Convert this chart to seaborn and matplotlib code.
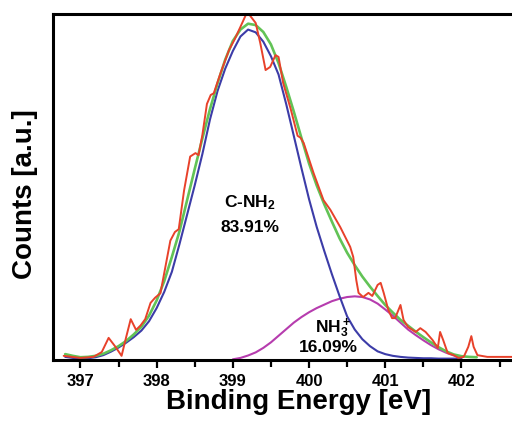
import numpy as np
import pandas as pd
import matplotlib
matplotlib.use("Agg")
import matplotlib.pyplot as plt
import seaborn as sns

# N 1s spectrum: binding energy [eV] and counts [a.u.]
raw_energy = [396.78, 397.00, 397.17, 397.28, 397.37, 397.46, 397.54, 397.60, 397.66, 397.73,
              397.79, 397.85, 397.92, 397.98, 398.05, 398.12, 398.18, 398.24, 398.29, 398.36,
              398.44, 398.51, 398.55, 398.60, 398.66, 398.71, 398.75, 398.84, 398.95, 399.02,
              399.10, 399.17, 399.22, 399.30, 399.36, 399.43, 399.49, 399.56, 399.60, 399.66,
              399.76, 399.85, 399.89, 399.93, 400.06, 400.19, 400.28, 400.41, 400.54, 400.58,
              400.62, 400.65, 400.71, 400.78, 400.83, 400.90, 400.94, 400.98, 401.04, 401.09,
              401.13, 401.20, 401.24, 401.30, 401.40, 401.46, 401.53, 401.62, 401.69, 401.72,
              401.76, 401.82, 401.90, 401.96, 402.03, 402.09, 402.13, 402.16, 402.21, 402.34,
              402.67]
raw_counts = [12, 6, 9, 23, 64, 38, 12, 66, 118, 87,
              100, 118, 165, 180, 193, 275, 345, 370, 378, 490,
              588, 598, 592, 650, 740, 766, 771, 830, 896, 925,
              963, 997, 997, 974, 916, 838, 847, 881, 876, 801,
              725, 648, 642, 627, 540, 462, 434, 384, 327, 298,
              231, 194, 182, 194, 185, 217, 223, 194, 145, 121,
              121, 159, 116, 95, 81, 92, 81, 58, 35, 81,
              58, 20, 14, 6, 9, 38, 69, 38, 14, 9,
              9]

# C-NH2 component
cnh2_energy = [396.8, 396.9, 397.0, 397.1, 397.2, 397.3, 397.4, 397.5, 397.6, 397.7,
               397.8, 397.9, 398.0, 398.1, 398.2, 398.3, 398.4, 398.5, 398.6, 398.7,
               398.8, 398.9, 399.0, 399.1, 399.2, 399.3, 399.4, 399.5, 399.6, 399.7,
               399.8, 399.9, 400.0, 400.1, 400.2, 400.3, 400.4, 400.5, 400.6, 400.7,
               400.8, 400.9, 401.0, 401.1, 401.2, 401.3, 401.4, 401.5, 401.6, 401.7,
               401.8, 401.9, 402.0]
cnh2_counts = [9, 6, 4, 5, 8, 14, 24, 36, 50, 66,
               85, 112, 150, 197, 255, 335, 420, 505, 595, 695,
               778, 842, 893, 935, 955, 947, 920, 878, 825, 740,
               648, 555, 465, 385, 315, 248, 185, 126, 88, 60,
               40, 25, 17, 12, 9, 7, 6, 5, 5, 4,
               4, 4, 4]

# NH3+ component
nh3_energy = [399.0, 399.1, 399.2, 399.3, 399.4, 399.5, 399.6, 399.7, 399.8, 399.9,
              400.0, 400.1, 400.2, 400.3, 400.4, 400.5, 400.6, 400.7, 400.8, 400.9,
              401.0, 401.1, 401.2, 401.3, 401.4, 401.5, 401.6, 401.7, 401.8, 401.9,
              402.0]
nh3_counts = [2, 6, 13, 22, 35, 51, 70, 89, 108, 124,
              138, 150, 160, 170, 177, 182, 184, 182, 175, 163,
              146, 128, 108, 88, 72, 57, 43, 31, 21, 13,
              7]

# Fitted envelope
fit_energy = [396.8, 396.9, 397.0, 397.1, 397.2, 397.3, 397.4, 397.5, 397.6, 397.7,
              397.8, 397.9, 398.0, 398.1, 398.2, 398.3, 398.4, 398.5, 398.6, 398.7,
              398.8, 398.9, 399.0, 399.1, 399.2, 399.3, 399.4, 399.5, 399.6, 399.7,
              399.8, 399.9, 400.0, 400.1, 400.2, 400.3, 400.4, 400.5, 400.6, 400.7,
              400.8, 400.9, 401.0, 401.1, 401.2, 401.3, 401.4, 401.5, 401.6, 401.7,
              401.8, 401.9, 402.0, 402.1, 402.2]
fit_counts = [17, 12, 8, 9, 12, 18, 28, 40, 55, 74,
              96, 128, 172, 228, 298, 372, 462, 552, 640, 725,
              800, 868, 922, 955, 972, 968, 948, 912, 858, 790,
              718, 642, 568, 505, 450, 400, 352, 310, 274, 241,
              212, 185, 159, 137, 116, 99, 82, 66, 51, 37,
              25, 16, 11, 9, 8]

x_ticks = [397, 398, 399, 400, 401, 402]

sns.set_theme(style="white")
plt.rcParams["font.family"] = ["Liberation Sans", "DejaVu Sans"]
plt.rcParams["mathtext.fontset"] = "custom"
plt.rcParams["mathtext.rm"] = "Liberation Sans:bold"
plt.rcParams["mathtext.default"] = "rm"
plt.rcParams["text.color"] = "black"
plt.rcParams["axes.labelcolor"] = "black"
plt.rcParams["xtick.color"] = "black"

fig = plt.figure(figsize=(5.12, 4.24), dpi=100)
fig.patch.set_facecolor("white")
# axes run past the right edge of the canvas
ax = fig.add_axes([53 / 512, 64 / 424, 477 / 512, 346 / 424])
ax.set_facecolor("white")

curves = [
    (nh3_energy, nh3_counts, "#b63cae", 1.5),
    (cnh2_energy, cnh2_counts, "#3c3ca8", 1.5),
    (fit_energy, fit_counts, "#62c356", 1.9),
    (raw_energy, raw_counts, "#e8412a", 1.4),
]
for xs, ys, col, lw in curves:
    df = pd.DataFrame({"energy": xs, "counts": ys})
    sns.lineplot(data=df, x="energy", y="counts", ax=ax, color=col, lw=lw,
                 sort=False, estimator=None)

x_left = 396.64
x_right = x_left + 477 / 76.2
ax.set_xlim(x_left, x_right)
ax.set_ylim(0, 1000)

ax.set_xticks(x_ticks)
ax.set_xticklabels([str(t) for t in x_ticks], fontweight="bold", fontsize=12,
                   color="black")
ax.set_xticks(np.array(x_ticks) + 0.5, minor=True)
ax.set_yticks([])
ax.tick_params(axis="x", which="major", direction="out", length=5.5, width=1.6,
               pad=4.5, bottom=True, color="black", labelcolor="black")
ax.tick_params(axis="x", which="minor", direction="out", length=5.0, width=1.6,
               bottom=True, color="black")

for side in ["left", "bottom", "top", "right"]:
    ax.spines[side].set_visible(True)
    ax.spines[side].set_color("black")
    ax.spines[side].set_linewidth(2.2)

ax.set_xlabel("Binding Energy [eV]", fontsize=20, fontweight="bold", color="black")
ax.xaxis.label.set_verticalalignment("top")
ax.xaxis.set_label_coords((299 - 53) / 477, -(389 - 360) / 346)

ax.set_ylabel("Counts [a.u.]", fontsize=20, fontweight="bold", color="black")
ax.yaxis.label.set_verticalalignment("center")
ax.yaxis.set_label_coords((25 - 53) / 477, (360 - 194) / 346)

ink = "black"
ax.text(399.23, 454, "C-NH$_2$", ha="center", va="center", fontsize=12.5,
        fontweight="bold", color=ink)
ax.text(399.23, 384, "83.91%", ha="center", va="center", fontsize=12.5,
        fontweight="bold", color=ink)
ax.text(400.32, 92, "NH$_3^+$", ha="center", va="center", fontsize=12.5,
        fontweight="bold", color=ink)
ax.text(400.26, 35, "16.09%", ha="center", va="center", fontsize=12.5,
        fontweight="bold", color=ink)

fig.savefig("out.png", dpi=100, facecolor="white")
